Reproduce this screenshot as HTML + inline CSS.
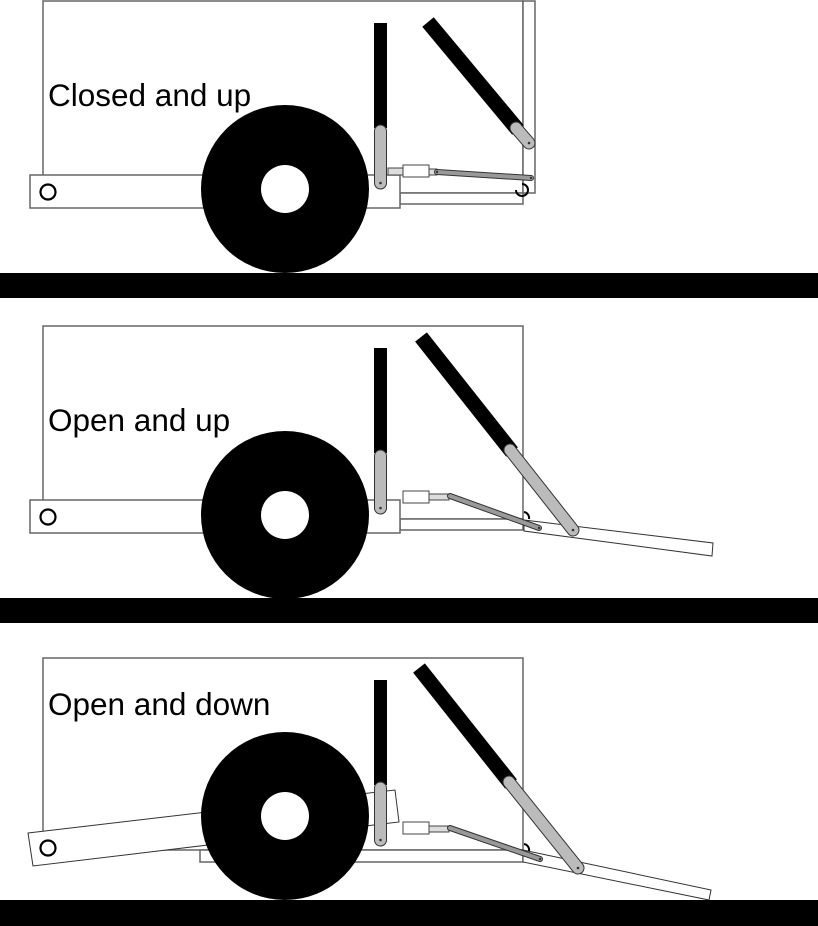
<!DOCTYPE html>
<html><head><meta charset="utf-8"><style>
html,body{margin:0;padding:0;background:#fff;}
svg{display:block;}
text{font-family:"Liberation Sans",sans-serif;font-size:31.5px;fill:#000;}
</style></head><body>
<svg width="818" height="926" viewBox="0 0 818 926" xmlns="http://www.w3.org/2000/svg">
<defs>
<g id="vstrut">
  <rect x="374" y="0" width="13" height="105" fill="#000"/>
  <rect x="374.5" y="102" width="12" height="64" rx="6" fill="#bbb" stroke="#333" stroke-width="1"/>
  <circle cx="380.5" cy="160" r="1.3" fill="#333"/>
</g>
</defs>
<g stroke="#666" stroke-width="1.5" fill="none">
<rect x="43" y="1" width="480" height="192" fill="#fff"/>
<rect x="523" y="1" width="12" height="192" fill="#fff"/>
<rect x="400" y="193" width="123" height="11" fill="#fff"/>
<rect x="30" y="175" width="370" height="33" fill="#fff"/>
</g>
<circle cx="48" cy="192" r="7.5" fill="none" stroke="#000" stroke-width="2.2"/>
<text x="48" y="106">Closed and up</text>
<circle cx="285" cy="189" r="84" fill="#000"/>
<circle cx="285" cy="189" r="24" fill="#fff"/>
<rect x="0" y="273" width="818" height="25" fill="#000"/>
<g transform="translate(0,23)"><use href="#vstrut"/></g>
<line x1="428" y1="22" x2="518" y2="130" stroke="#000" stroke-width="15"/>
<line x1="516" y1="128" x2="529" y2="143" stroke="#333" stroke-width="13" stroke-linecap="round"/>
<line x1="516" y1="128" x2="529" y2="143" stroke="#bbb" stroke-width="11" stroke-linecap="round"/>
<circle cx="529" cy="143" r="1.3" fill="#333"/>
<rect x="388" y="168" width="16" height="7" fill="#ddd" stroke="#444"/>
<rect x="403" y="165" width="26" height="12" fill="#fff" stroke="#444"/>
<rect x="429" y="169" width="8" height="6" fill="#ddd" stroke="#444"/>
<line x1="437" y1="172" x2="531" y2="178" stroke="#333" stroke-width="6" stroke-linecap="round"/>
<line x1="437" y1="172" x2="531" y2="178" stroke="#999" stroke-width="4" stroke-linecap="round"/>
<circle cx="437" cy="172" r="1.2" fill="#333"/><circle cx="531" cy="178" r="1.2" fill="#333"/>
<path d="M516 190 A6 6 0 1 0 522 184" fill="none" stroke="#000" stroke-width="2"/>

<g stroke="#666" stroke-width="1.5" fill="none">
<rect x="43" y="326" width="480" height="193" fill="#fff"/>
<rect x="400" y="519" width="123" height="11" fill="#fff"/>
<rect x="30" y="500" width="370" height="33" fill="#fff"/>
</g>
<polygon points="524,520 713,543 712,556 524,531" fill="#fff" stroke="#333" stroke-width="1"/>
<circle cx="48" cy="517" r="7.5" fill="none" stroke="#000" stroke-width="2.2"/>
<text x="48" y="431">Open and up</text>
<circle cx="285" cy="515" r="84" fill="#000"/>
<circle cx="285" cy="515" r="24" fill="#fff"/>
<rect x="0" y="598" width="818" height="25" fill="#000"/>
<g transform="translate(0,348)"><use href="#vstrut"/></g>
<line x1="421" y1="337" x2="512" y2="452" stroke="#000" stroke-width="15"/>
<line x1="510" y1="450" x2="573" y2="530" stroke="#333" stroke-width="13" stroke-linecap="round"/>
<line x1="510" y1="450" x2="573" y2="530" stroke="#bbb" stroke-width="11" stroke-linecap="round"/>
<circle cx="573" cy="530" r="1.3" fill="#333"/>
<rect x="403" y="491" width="26" height="12" fill="#fff" stroke="#444"/>
<rect x="429" y="494" width="20" height="6" fill="#ddd" stroke="#444"/>
<line x1="450" y1="496" x2="539" y2="528" stroke="#333" stroke-width="6" stroke-linecap="round"/>
<line x1="450" y1="496" x2="539" y2="528" stroke="#999" stroke-width="4" stroke-linecap="round"/>
<circle cx="539" cy="528" r="1.2" fill="#333"/>
<path d="M524 512 A6 6 0 0 1 529 519" fill="none" stroke="#000" stroke-width="2"/>

<g stroke="#666" stroke-width="1.5" fill="none">
<rect x="43" y="658" width="480" height="192" fill="#fff"/>
<rect x="200" y="850" width="323" height="12" fill="#fff"/>
</g>
<polygon points="28,833 395,790 399,822 33,866" fill="#fff" stroke="#333" stroke-width="1"/>
<polygon points="523,850 711,890 709,900 523,862" fill="#fff" stroke="#333" stroke-width="1"/>
<circle cx="48" cy="848" r="7.5" fill="none" stroke="#000" stroke-width="2.2"/>
<text x="48" y="715">Open and down</text>
<circle cx="285" cy="816" r="84" fill="#000"/>
<circle cx="285" cy="816" r="24" fill="#fff"/>
<rect x="0" y="900" width="818" height="26" fill="#000"/>
<g transform="translate(0,680)"><use href="#vstrut"/></g>
<line x1="419" y1="668" x2="511" y2="784" stroke="#000" stroke-width="15"/>
<line x1="509" y1="782" x2="578" y2="868" stroke="#333" stroke-width="13" stroke-linecap="round"/>
<line x1="509" y1="782" x2="578" y2="868" stroke="#bbb" stroke-width="11" stroke-linecap="round"/>
<circle cx="578" cy="868" r="1.3" fill="#333"/>
<rect x="403" y="822" width="26" height="12" fill="#fff" stroke="#444"/>
<rect x="429" y="826" width="20" height="6" fill="#ddd" stroke="#444"/>
<line x1="450" y1="828" x2="540" y2="859" stroke="#333" stroke-width="6" stroke-linecap="round"/>
<line x1="450" y1="828" x2="540" y2="859" stroke="#999" stroke-width="4" stroke-linecap="round"/>
<circle cx="540" cy="859" r="1.2" fill="#333"/>
<path d="M524 844 A6 6 0 0 1 529 851" fill="none" stroke="#000" stroke-width="2"/>
</svg>
</body></html>
